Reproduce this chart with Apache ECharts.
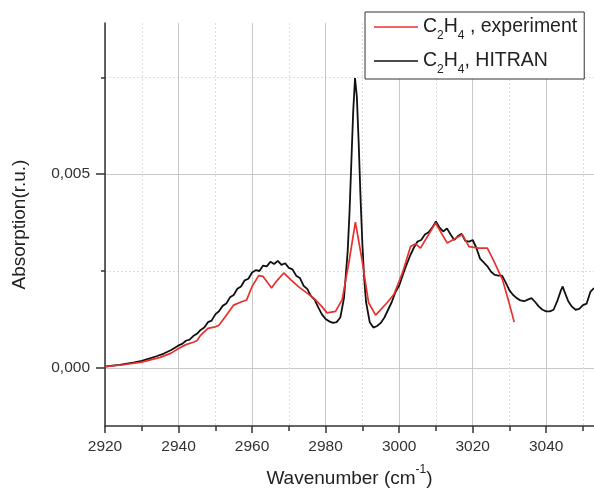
<!DOCTYPE html>
<html>
<head>
<meta charset="utf-8">
<script src="https://cdn.jsdelivr.net/npm/echarts@6/dist/echarts.min.js"></script>
<style>html,body{margin:0;padding:0;background:#fff}#c{width:594px;height:493px}</style>
</head>
<body>
<div id="c"></div>
<script>
// HITRAN (black) trace
var hitranX = [2920,2922,2924,2926,2928,2930,2932,2934,2936,2938,2940,2941,2942,2943,2944,2945,2946,2947,2948,2949,2950,2951,2952,2953,2954,2955,2956,2957,2958,2959,2960,2961,2962,2963,2964,2965,2966,2967,2968,2969,2970,2971,2972,2973,2974,2975,2976,2977,2978,2979,2980,2981,2982,2983,2984,2985,2985.5,2986,2986.5,2987,2987.5,2988,2988.5,2989,2989.5,2990,2990.5,2991,2992,2993,2994,2995,2996,2997,2998,2999,3000,3001,3002,3003,3004,3005,3006,3007,3008,3009,3010,3011,3012,3013,3014,3015,3016,3017,3018,3019,3020,3021,3022,3023,3024,3025,3026,3027,3028,3029,3030,3031,3032,3033,3034,3035,3036,3037,3038,3039,3040,3041,3042,3043,3044,3044.5,3045,3046,3047,3048,3049,3050,3051,3052,3053];
var hitranY = [0.00003,0.00006,0.00008,0.00011,0.00014,0.00018,0.00024,0.00030,0.00037,0.00046,0.00058,0.00062,0.00070,0.00073,0.00082,0.00088,0.00098,0.00104,0.00118,0.00122,0.00138,0.00146,0.00160,0.00166,0.00182,0.00188,0.00204,0.00210,0.00226,0.00230,0.00246,0.00252,0.00250,0.00264,0.00262,0.00274,0.00268,0.00276,0.00266,0.00270,0.00258,0.00254,0.00238,0.00232,0.00212,0.00204,0.00186,0.00176,0.00156,0.00138,0.00126,0.00120,0.00116,0.00118,0.00130,0.00180,0.00240,0.00300,0.00400,0.00530,0.00660,0.00748,0.00700,0.00580,0.00440,0.00320,0.00230,0.00170,0.00118,0.00104,0.00108,0.00116,0.00130,0.00150,0.00170,0.00196,0.00212,0.00240,0.00266,0.00290,0.00310,0.00326,0.00330,0.00344,0.00350,0.00362,0.00378,0.00362,0.00352,0.00360,0.00344,0.00330,0.00340,0.00346,0.00328,0.00326,0.00330,0.00310,0.00282,0.00272,0.00262,0.00248,0.00240,0.00238,0.00238,0.00220,0.00200,0.00188,0.00180,0.00174,0.00172,0.00176,0.00180,0.00170,0.00158,0.00150,0.00146,0.00146,0.00150,0.00172,0.00200,0.00210,0.00196,0.00172,0.00158,0.00150,0.00152,0.00162,0.00166,0.00196,0.00206];

// Experiment (red) trace
var expX = [2920,2925,2930,2935,2938,2940,2942,2944,2945,2946,2948,2950,2951,2953,2955,2957,2958.5,2960,2961.8,2963,2965.3,2966.5,2968.6,2970.5,2972.7,2974.5,2976.8,2979,2980.4,2982.7,2984.5,2986.3,2988.1,2989.9,2991.7,2993.6,2996.7,2998.6,3000.9,3003.1,3004.5,3005.8,3009.9,3013.1,3017.2,3019,3021.7,3024,3025.8,3028.1,3029.9,3031.3];
var expY = [0.00003,0.00008,0.00015,0.00027,0.00038,0.00050,0.00060,0.00066,0.00070,0.00084,0.00102,0.00106,0.00110,0.00136,0.00162,0.00170,0.00175,0.00210,0.00238,0.00236,0.00206,0.00222,0.00245,0.00228,0.00209,0.00196,0.00180,0.00158,0.00142,0.00146,0.00176,0.00270,0.00376,0.00279,0.00168,0.00136,0.00168,0.00190,0.00245,0.00313,0.00320,0.00309,0.00374,0.00322,0.00344,0.00313,0.00309,0.00309,0.00275,0.00228,0.00168,0.00118];

var xTicks = [2920,2940,2960,2980,3000,3020,3040];
var xMinorTicks = [2930,2950,2970,2990,3010,3030,3050];
var yTicks = [0, 0.005];
var yMinorTicks = [0.0025, 0.0075];
var seriesNames = ['C2H4 , experiment', 'C2H4, HITRAN'];

function pairs(xs, ys){ return xs.map(function(x,i){ return [x, ys[i]]; }); }

var FONT = '"Liberation Sans", Arial, sans-serif';
var chart = echarts.init(document.getElementById('c'), null, {renderer:'canvas'});
var X0 = 2920, X1 = 3053, Y0 = -0.0015, Y1 = 0.0089;

chart.setOption({
  animation: false,
  backgroundColor: '#fff',
  textStyle: {fontFamily: FONT},
  grid: {left: 105, right: 0, top: 23, bottom: 66, containLabel: false},
  legend: {
    orient: 'vertical',
    left: 365, top: 12,
    padding: [5, 7, 3, 9],
    itemGap: 9,
    itemWidth: 44, itemHeight: 1.6,
    icon: 'rect',
    borderColor: '#333', borderWidth: 1,
    backgroundColor: '#fff',
    data: seriesNames,
    formatter: function(name){
      var rest = name.slice(4);
      return '{n|C}{s|2}{n|H}{s|4}{n|' + rest + '}';
    },
    textStyle: {
      fontFamily: FONT, color: '#222',
      rich: {
        n: {fontSize: 19.5, fontFamily: FONT, color: '#222', lineHeight: 24, verticalAlign: 'middle'},
        s: {fontSize: 12, fontFamily: FONT, color: '#222', lineHeight: 24, verticalAlign: 'bottom', padding: [0,0,-3,0]}
      }
    }
  },
  xAxis: [{
    type: 'value', min: X0, max: X1, position: 'bottom',
    name: '{a|Wavenumber (cm}{sup|-1}{a|)}',
    nameLocation: 'middle', nameGap: 38,
    nameTextStyle: {
      rich: {
        a: {fontSize: 19, fontFamily: FONT, color: '#222', lineHeight: 24, verticalAlign: 'bottom'},
        sup: {fontSize: 12, fontFamily: FONT, color: '#222', lineHeight: 24, verticalAlign: 'top'}
      }
    },
    axisLine: {show: true, onZero: false, lineStyle: {color: '#333', width: 1.5}},
    axisTick: {show: true, inside: false, length: 7, customValues: xTicks, lineStyle: {color: '#333', width: 1.5}},
    axisLabel: {show: true, customValues: xTicks, margin: 13, fontSize: 15.5, color: '#333', fontFamily: FONT,
      formatter: function(v){ return String(Math.round(v)); }},
    splitLine: {show: true, lineStyle: {color: '#c8c8c8', width: 1}},
    minorTick: {show: false}, minorSplitLine: {show: false}
  }, {
    type: 'value', min: X0, max: X1, position: 'bottom', offset: 0,
    axisLine: {show: false, onZero: false},
    axisTick: {show: true, inside: false, length: 5, customValues: xMinorTicks, lineStyle: {color: '#333', width: 1.5}},
    axisLabel: {show: false, customValues: xMinorTicks},
    splitLine: {show: true, lineStyle: {color: '#dcdcdc', width: 1, type: [2, 2]}}
  }],
  yAxis: [{
    type: 'value', min: Y0, max: Y1, position: 'left',
    name: 'Absorption(r.u.)',
    nameLocation: 'middle', nameGap: 76,
    nameTextStyle: {fontSize: 19, fontFamily: FONT, color: '#222'},
    axisLine: {show: true, onZero: false, lineStyle: {color: '#333', width: 1.5}},
    axisTick: {show: true, inside: false, length: 9, customValues: yTicks, lineStyle: {color: '#333', width: 1.5}},
    axisLabel: {show: true, customValues: yTicks, margin: 15, fontSize: 15.5, color: '#333', fontFamily: FONT,
      formatter: function(v){ return v.toFixed(3).replace('.', ','); }},
    splitLine: {show: true, lineStyle: {color: '#c8c8c8', width: 1}}
  }, {
    type: 'value', min: Y0, max: Y1, position: 'left', offset: 0,
    axisLine: {show: false, onZero: false},
    axisTick: {show: true, inside: false, length: 4, customValues: yMinorTicks, lineStyle: {color: '#333', width: 1.5}},
    axisLabel: {show: false, customValues: yMinorTicks},
    splitLine: {show: true, lineStyle: {color: '#dcdcdc', width: 1, type: [2, 2]}}
  }],
  series: [{
    name: seriesNames[0], type: 'line', xAxisIndex: 0, yAxisIndex: 0,
    data: pairs(expX, expY), symbol: 'none', showSymbol: false, z: 3,
    lineStyle: {color: '#e8312f', width: 1.7}, itemStyle: {color: '#e8312f'}
  }, {
    name: seriesNames[1], type: 'line', xAxisIndex: 0, yAxisIndex: 0,
    data: pairs(hitranX, hitranY), symbol: 'none', showSymbol: false, z: 2,
    lineStyle: {color: '#111', width: 1.8}, itemStyle: {color: '#111'}
  }]
});
</script>
</body>
</html>
